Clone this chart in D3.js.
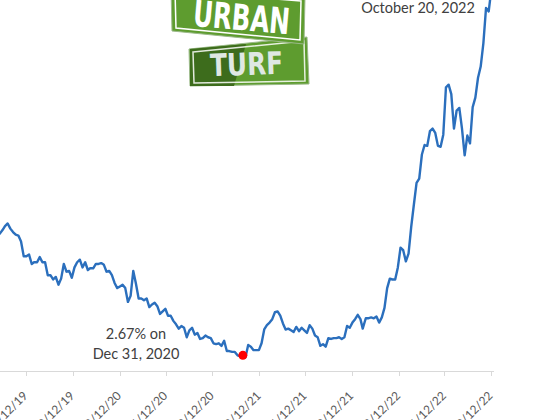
<!DOCTYPE html>
<html lang="en">
  <head>
    <meta charset="utf-8">
    <title>30-Year Fixed Mortgage Rate</title>
    <style>
      body { margin: 0; background: #fff; }
      svg { display: block; }
      .axis path, .axis line { stroke: #d9d9d9; fill: none; shape-rendering: crispEdges; }
      .axis text { font-family: Lato, sans-serif; font-size: 12px; fill: #595959; }
      .note { font-family: Lato, sans-serif; font-size: 14.5px; fill: #404040; text-anchor: middle; }
      .sign-text { font-family: "DejaVu Sans", sans-serif; font-weight: bold; }
    </style>
  </head>
  <body>
    <svg id="chart" width="560" height="420"></svg>
    <script src="https://d3js.org/d3.v7.min.js"></script>
    <script>
      // weekly 30-year fixed rate (%)
      const weeks = [
        "2019-03-28","2019-04-04","2019-04-11","2019-04-18","2019-04-25","2019-05-02","2019-05-09","2019-05-16","2019-05-23","2019-05-30",
        "2019-06-06","2019-06-13","2019-06-20","2019-06-27","2019-07-03","2019-07-11","2019-07-18","2019-07-25","2019-08-01","2019-08-08",
        "2019-08-15","2019-08-22","2019-08-29","2019-09-05","2019-09-12","2019-09-19","2019-09-26","2019-10-03","2019-10-10","2019-10-17",
        "2019-10-24","2019-10-31","2019-11-07","2019-11-14","2019-11-21","2019-11-27","2019-12-05","2019-12-12","2019-12-19","2019-12-26",
        "2020-01-02","2020-01-09","2020-01-16","2020-01-23","2020-01-30","2020-02-06","2020-02-13","2020-02-20","2020-02-27","2020-03-05",
        "2020-03-12","2020-03-19","2020-03-26","2020-04-02","2020-04-09","2020-04-16","2020-04-23","2020-04-30","2020-05-07","2020-05-14",
        "2020-05-21","2020-05-28","2020-06-04","2020-06-11","2020-06-18","2020-06-25","2020-07-02","2020-07-09","2020-07-16","2020-07-23",
        "2020-07-30","2020-08-06","2020-08-13","2020-08-20","2020-08-27","2020-09-03","2020-09-10","2020-09-17","2020-09-24","2020-10-01",
        "2020-10-08","2020-10-15","2020-10-22","2020-10-29","2020-11-05","2020-11-12","2020-11-19","2020-11-25","2020-12-03","2020-12-10",
        "2020-12-17","2020-12-23","2020-12-31","2021-01-07","2021-01-14","2021-01-21","2021-01-28","2021-02-04","2021-02-11","2021-02-18",
        "2021-02-25","2021-03-04","2021-03-11","2021-03-18","2021-03-25","2021-04-01","2021-04-08","2021-04-15","2021-04-22","2021-04-29",
        "2021-05-06","2021-05-13","2021-05-20","2021-05-27","2021-06-03","2021-06-10","2021-06-17","2021-06-24","2021-07-01","2021-07-08",
        "2021-07-15","2021-07-22","2021-07-29","2021-08-05","2021-08-12","2021-08-19","2021-08-26","2021-09-02","2021-09-09","2021-09-16",
        "2021-09-23","2021-09-30","2021-10-07","2021-10-14","2021-10-21","2021-10-28","2021-11-04","2021-11-10","2021-11-18","2021-11-24",
        "2021-12-02","2021-12-09","2021-12-16","2021-12-23","2021-12-30","2022-01-06","2022-01-13","2022-01-20","2022-01-27","2022-02-03",
        "2022-02-10","2022-02-17","2022-02-24","2022-03-03","2022-03-10","2022-03-17","2022-03-24","2022-03-31","2022-04-07","2022-04-14",
        "2022-04-21","2022-04-28","2022-05-05","2022-05-12","2022-05-19","2022-05-26","2022-06-02","2022-06-09","2022-06-16","2022-06-23",
        "2022-06-30","2022-07-07","2022-07-14","2022-07-21","2022-07-28","2022-08-04","2022-08-11","2022-08-18","2022-08-25","2022-09-01",
        "2022-09-08","2022-09-15","2022-09-22","2022-09-29","2022-10-06","2022-10-13","2022-10-20"
      ];
      const rates = [
        4.06,4.08,4.12,4.17,4.20,4.14,4.10,4.07,4.06,3.99,
        3.82,3.82,3.84,3.73,3.75,3.75,3.81,3.75,3.75,3.60,
        3.60,3.55,3.58,3.49,3.56,3.73,3.64,3.65,3.57,3.69,
        3.75,3.78,3.69,3.75,3.66,3.68,3.68,3.73,3.73,3.74,
        3.72,3.64,3.65,3.60,3.51,3.45,3.47,3.49,3.45,3.29,
        3.36,3.65,3.50,3.33,3.33,3.31,3.33,3.23,3.26,3.28,
        3.24,3.15,3.18,3.21,3.13,3.13,3.07,3.03,2.98,3.01,
        2.99,2.88,2.96,2.99,2.91,2.93,2.86,2.87,2.90,2.88,
        2.87,2.81,2.80,2.81,2.78,2.84,2.72,2.72,2.71,2.71,
        2.67,2.66,2.67,2.65,2.79,2.77,2.73,2.73,2.73,2.81,
        2.97,3.02,3.05,3.09,3.17,3.18,3.13,3.04,2.97,2.98,
        2.96,2.94,3.00,2.95,2.99,2.96,2.93,3.02,2.98,2.90,
        2.88,2.78,2.80,2.77,2.87,2.86,2.87,2.87,2.88,2.86,
        2.88,3.01,2.99,3.05,3.09,3.14,3.09,2.98,3.10,3.10,
        3.11,3.10,3.12,3.05,3.11,3.22,3.45,3.56,3.55,3.55,
        3.69,3.92,3.89,3.76,3.85,4.16,4.42,4.67,4.72,5.00,
        5.11,5.10,5.27,5.30,5.25,5.10,5.09,5.23,5.78,5.81,
        5.70,5.30,5.51,5.54,5.30,4.99,5.22,5.13,5.55,5.66,
        5.89,6.02,6.29,6.70,6.66,6.92,6.94
      ];
      const tickDates = ["2019-06-12","2019-10-12","2020-02-12","2020-06-12","2020-10-12","2021-02-12",
                         "2021-06-12","2021-10-12","2022-02-12","2022-06-12","2022-10-12"];
      const lowPoint = { date: "2020-12-31", rate: 2.67, lines: ["2.67% on", "Dec 31, 2020"] };
      const lastPoint = { date: "2022-10-20", rate: 6.94, lines: ["6.94% on", "October 20, 2022"] };

      const parse = d3.timeParse("%Y-%m-%d");
      const data = weeks.map((w, i) => ({ date: parse(w), rate: rates[i] }));
      const ticks = tickDates.map(parse);

      const svg = d3.select("#chart");
      svg.append("rect").attr("width", 560).attr("height", 420).attr("fill", "#fff");

      const x0 = d3.scaleTime().domain([ticks[0], ticks[ticks.length - 1]]).range([26, 491]);
      const x = d3.scaleTime().domain([x0.invert(-10), x0.invert(493)]).range([-10, 493]);
      const y = d3.scaleLinear().domain([2.5, 7.5]).range([370, -61]);

      // x axis
      const fmt = d => d3.timeFormat("%-m/%d/%y")(d);
      const axis = svg.append("g")
        .attr("class", "axis")
        .attr("transform", "translate(0,370.5)")
        .call(d3.axisBottom(x).tickValues(ticks).tickFormat(fmt).tickSize(5).tickSizeOuter(0));
      axis.selectAll("text")
        .attr("text-anchor", "end")
        .attr("y", 0)
        .attr("dy", "0.35em")
        .attr("transform", "translate(-1,23) rotate(-45)");

      // rate line
      svg.append("path")
        .datum(data)
        .attr("fill", "none")
        .attr("stroke", "#2b6fbd")
        .attr("stroke-width", 2.4)
        .attr("stroke-linejoin", "round")
        .attr("d", d3.line().x(d => x(d.date)).y(d => y(d.rate)));

      svg.append("circle")
        .attr("cx", x(parse(lowPoint.date)))
        .attr("cy", y(lowPoint.rate))
        .attr("r", 4.5)
        .attr("fill", "#ff0000");

      // annotations
      svg.append("text").attr("class", "note")
        .attr("x", 136).attr("y", 339)
        .selectAll("tspan").data(lowPoint.lines).join("tspan")
        .attr("x", 136).attr("dy", (d, i) => i ? 20 : 0).text(d => d);
      svg.append("text").attr("class", "note")
        .attr("x", 418).attr("y", -7)
        .selectAll("tspan").data(lastPoint.lines).join("tspan")
        .attr("x", 418).attr("dy", (d, i) => i ? 20 : 0).text(d => d);

      // Urban Turf logo
      const logo = svg.append("g");
      logo.append("polygon")
        .attr("points", "189,49 307,37 309,84 190,86")
        .attr("fill", "#5e9c2f").attr("stroke", "#9bb98a").attr("stroke-width", 1);
      logo.append("polygon")
        .attr("points", "190,49 246,44 234,86 190,86")
        .attr("fill", "#3d6c1c");
      logo.append("polygon")
        .attr("points", "193,52 304,41 305,81 194,83")
        .attr("fill", "none").attr("stroke", "#fff").attr("stroke-width", 1.5).attr("opacity", 0.85);
      logo.append("text").attr("class", "sign-text")
        .attr("x", 210).attr("y", 75)
        .attr("font-size", 31)
        .attr("textLength", 73).attr("lengthAdjust", "spacingAndGlyphs")
        .attr("transform", "rotate(-2 246 62)")
        .attr("fill", "#dfe8e3")
        .text("TURF");

      logo.append("polygon")
        .attr("points", "171,-12 305,-2 304,44 172,31")
        .attr("fill", "#5e9c2f").attr("stroke", "#9bb98a").attr("stroke-width", 1);
      logo.append("polygon")
        .attr("points", "175,-9 301,1 300,40 176,28")
        .attr("fill", "none").attr("stroke", "#fff").attr("stroke-width", 1.5);
      logo.append("text").attr("class", "sign-text")
        .attr("x", 193).attr("y", 30)
        .attr("font-size", 36)
        .attr("textLength", 97).attr("lengthAdjust", "spacingAndGlyphs")
        .attr("transform", "rotate(5 241 18)")
        .attr("fill", "#fff")
        .text("URBAN");
    </script>
  </body>
</html>
